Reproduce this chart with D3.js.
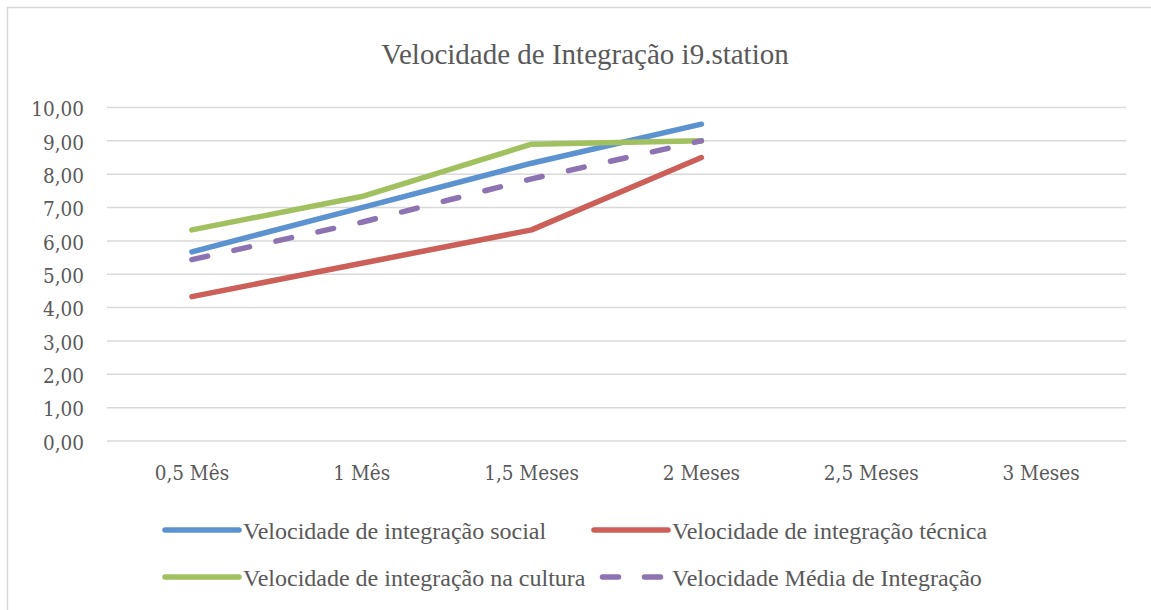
<!DOCTYPE html>
<html>
<head>
<meta charset="utf-8">
<script src="https://cdn.jsdelivr.net/npm/d3@7"></script>
<style>
  html, body { margin: 0; padding: 0; background: #fff; }
  svg { display: block; }
</style>
</head>
<body>
<svg id="chart" width="1151" height="610"></svg>
<script>
// Integration speed per period, scale 0–10
const periods = ["0,5 Mês", "1 Mês", "1,5 Meses", "2 Meses", "2,5 Meses", "3 Meses"];
const social  = [5.67, 7.00, 8.33, 9.50];
const tecnica = [4.33, 5.33, 6.33, 8.50];
const cultura = [6.33, 7.33, 8.90, 9.00];
const media   = [5.44, 6.56, 7.86, 9.00];
const yTicks  = [0, 1, 2, 3, 4, 5, 6, 7, 8, 9, 10];
const titleText = "Velocidade de Integração i9.station";

const series = [
  { name: "Velocidade de integração social",     values: social,  color: "#5B92CF", dash: false },
  { name: "Velocidade de integração técnica",    values: tecnica, color: "#CC5F57", dash: false },
  { name: "Velocidade de integração na cultura", values: cultura, color: "#A1C160", dash: false },
  { name: "Velocidade Média de Integração",      values: media,   color: "#8E73B3", dash: true }
];

const svg = d3.select("#chart");
const serif = "'Liberation Serif', 'Times New Roman', serif";
const axisFont = "'DejaVu Serif Condensed', 'Liberation Serif', serif";

// outer frame
svg.append("rect")
  .attr("x", 7.5).attr("y", 7.5)
  .attr("width", 1170).attr("height", 620)
  .attr("fill", "none").attr("stroke", "#D9D9D9").attr("stroke-width", 1.5);

const x = d3.scaleBand().domain(periods).range([107, 1126]).padding(0);
const y = d3.scaleLinear().domain([0, 10]).range([441, 107.5]);

// title
svg.append("text")
  .attr("x", 585).attr("y", 64)
  .attr("text-anchor", "middle")
  .attr("font-family", serif).attr("font-size", 29)
  .attr("fill", "#595959")
  .text(titleText);

// horizontal gridlines
svg.append("g").selectAll("line")
  .data(yTicks)
  .join("line")
  .attr("x1", x.range()[0]).attr("x2", x.range()[1])
  .attr("y1", d => y(d)).attr("y2", d => y(d))
  .attr("stroke", "#D9D9D9").attr("stroke-width", 1.5);

// y axis labels
const yAxis = d3.axisLeft(y).tickValues(yTicks).tickSize(0).tickPadding(0)
  .tickFormat(d => d3.format(".2f")(d).replace(".", ","));
const gy = svg.append("g").attr("transform", "translate(84,0)").call(yAxis);
gy.select(".domain").remove();
gy.selectAll("text")
  .attr("font-family", axisFont).attr("font-size", 20.5)
  .attr("dy", "0.40em")
  .attr("fill", "#595959");

// x axis labels
const xAxis = d3.axisBottom(x).tickSize(0).tickPadding(0);
const gx = svg.append("g").attr("transform", "translate(0,465)").call(xAxis);
gx.select(".domain").remove();
gx.selectAll("text")
  .attr("font-family", axisFont).attr("font-size", 20.5)
  .attr("fill", "#595959");

// series lines
const line = d3.line()
  .x((d, i) => x(periods[i]) + x.bandwidth() / 2)
  .y(d => y(d));

svg.append("g").selectAll("path")
  .data(series)
  .join("path")
  .attr("d", s => line(s.values))
  .attr("fill", "none")
  .attr("stroke", s => s.color)
  .attr("stroke-width", 5.5)
  .attr("stroke-linecap", "round")
  .attr("stroke-linejoin", "round")
  .attr("stroke-dasharray", s => s.dash ? "16 27" : null);

// legend
const legendPos = [[165, 530], [594, 530], [165, 577], [594, 577]];
const lg = svg.append("g").selectAll("g")
  .data(series)
  .join("g")
  .attr("transform", (s, i) => `translate(${legendPos[i][0]},${legendPos[i][1]})`);
lg.append("line")
  .attr("x1", s => s.dash ? 8.5 : 0).attr("x2", 74).attr("y1", 0).attr("y2", 0)
  .attr("stroke", s => s.color).attr("stroke-width", 5.5)
  .attr("stroke-linecap", "round")
  .attr("stroke-dasharray", s => s.dash ? "16 26" : null);
lg.append("text")
  .attr("x", 78).attr("y", 9)
  .attr("font-family", serif).attr("font-size", 24)
  .attr("fill", "#595959")
  .text(s => s.name);
</script>
</body>
</html>
